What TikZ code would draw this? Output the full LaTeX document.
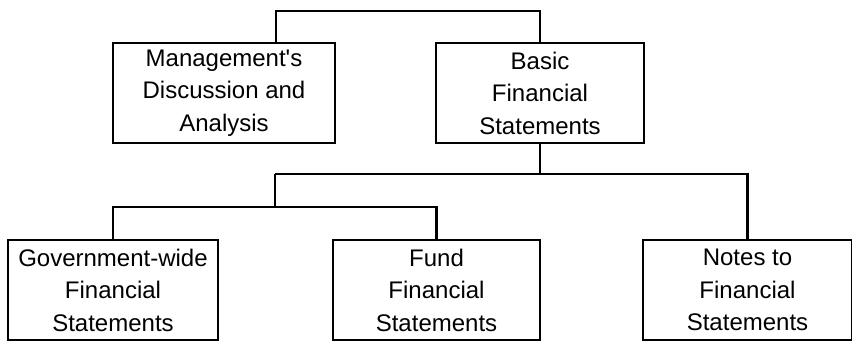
\documentclass[tikz,border=0pt]{standalone}
\usepackage{fontspec}
\setmainfont{Liberation Sans}
\begin{document}
\begin{tikzpicture}[x=1pt,y=1pt,
  box/.style={draw, line width=2.4pt, minimum height=100pt, inner sep=0pt, align=center,
    font=\fontsize{24}{32.5}\selectfont},
  conn/.style={line width=2.2pt}]
\useasboundingbox (0,0) rectangle (852,-341);
\fill[white] (0,0) rectangle (852,-341);
\node[box, minimum width=222pt] (mda) at (224,-93) {Management\textquotesingle s\\Discussion and\\Analysis};
\node[box, minimum width=208pt] (basic) at (540,-93) {Basic\\Financial\\Statements};
\node[box, minimum width=210pt] (gov) at (113,-290) {Government-wide\\Financial\\Statements};
\node[box, minimum width=207pt] (fund) at (436.5,-290) {Fund\\Financial\\Statements};
\node[box, minimum width=209pt] (notes) at (747.5,-290) {Notes to\\Financial\\Statements};
\coordinate (top) at (276,-11);
\coordinate (b) at (540,-174);
\coordinate (l) at (275,-174);
\coordinate (m) at (275,-207);
\draw[conn] (mda.north -| top) -- (top) -| (basic.north);
\draw[conn] (basic.south) -- (b);
\draw[conn] (l) -| (notes.north);
\draw[conn] (l) -- (m);
\draw[conn] (gov.north) |- (m) -| (fund.north);
\end{tikzpicture}
\end{document}
